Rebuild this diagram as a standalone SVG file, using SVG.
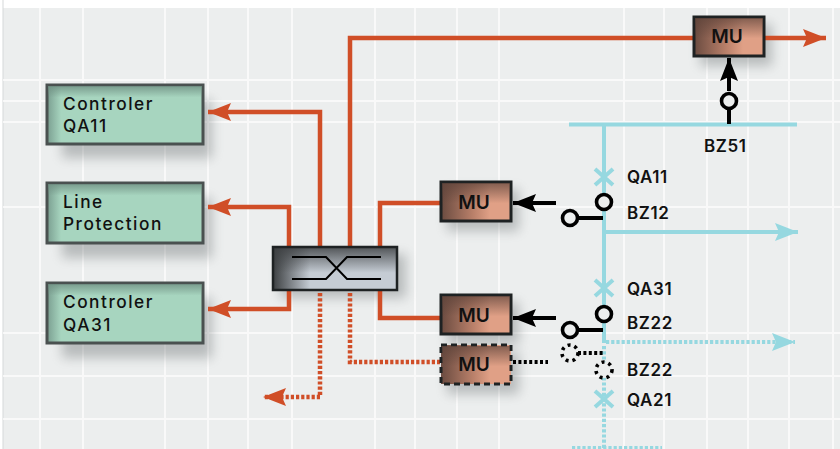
<svg xmlns="http://www.w3.org/2000/svg" width="840" height="449" viewBox="0 0 840 449">
<style>
.grid{stroke:#fff;stroke-width:2;fill:none;opacity:.7}
.red{stroke:#d04e27;stroke-width:4.500;fill:none}
.redd{stroke:#d04e27;stroke-width:4.500;fill:none;stroke-dasharray:3.200 2}
.cy{stroke:#96d8e0;stroke-width:4;fill:none}
.cyd{stroke:#96d8e0;stroke-width:4;fill:none;stroke-dasharray:3.200 2}
.bk{stroke:#000;stroke-width:4;fill:none}
.bkd{stroke:#000;stroke-width:4;fill:none;stroke-dasharray:3 2.400}
.ring{stroke:#000;stroke-width:3.600;fill:#eceeee}
.ringd{stroke:#000;stroke-width:3.600;fill:#eceeee;stroke-dasharray:3 4}
.t{font-family:Inter,"Noto Sans","Liberation Sans",sans-serif;fill:#111}
.g{font-size:17.300px;letter-spacing:1.500px;font-weight:500}
.m{font-size:19px;font-weight:600;text-anchor:middle}
.l{font-size:17px;font-weight:600;letter-spacing:.6px}
.green{fill:url(#gg);stroke:#4a5150;stroke-width:3}
.gov{fill:url(#gt);stroke:none}
.mu{fill:url(#mg);stroke:#1e2223;stroke-width:3}
.ov{fill:url(#mt);stroke:none}
</style>
<defs>
<linearGradient id="gg" x1="0" y1="0" x2="1" y2="0"><stop offset="0" stop-color="#7a9e90"/><stop offset=".09" stop-color="#a7d5bf"/><stop offset="1" stop-color="#a7d5bf"/></linearGradient>
<linearGradient id="gt" x1="0" y1="0" x2="0" y2="1"><stop offset="0" stop-color="#6f8f82" stop-opacity=".8"/><stop offset=".2" stop-color="#6f8f82" stop-opacity="0"/></linearGradient>
<linearGradient id="mg" x1="0" y1="0" x2="1" y2="0"><stop offset="0" stop-color="#6a4b40"/><stop offset=".45" stop-color="#b87f69"/><stop offset=".7" stop-color="#e0a086"/><stop offset="1" stop-color="#e0a086"/></linearGradient>
<linearGradient id="mt" x1="0" y1="0" x2="0" y2="1"><stop offset="0" stop-color="#5c4239" stop-opacity=".7"/><stop offset=".55" stop-color="#5c4239" stop-opacity="0"/></linearGradient>
<linearGradient id="sw" x1="0" y1="0" x2="1" y2="0"><stop offset="0" stop-color="#3c3f41"/><stop offset=".3" stop-color="#c5ccd4"/><stop offset="1" stop-color="#c5ccd4"/></linearGradient>
<linearGradient id="swt" x1="0" y1="0" x2="0" y2="1"><stop offset="0" stop-color="#3c3f41" stop-opacity=".85"/><stop offset=".6" stop-color="#3c3f41" stop-opacity="0"/></linearGradient>
<filter id="sh" x="-30%" y="-50%" width="160%" height="200%"><feGaussianBlur stdDeviation="6"/></filter>
<marker id="ar" markerWidth="24" markerHeight="18" refX="23" refY="9" orient="auto" markerUnits="userSpaceOnUse"><path d="M0 0L23 9L0 18L4 9Z" fill="#d04e27"/></marker>
<marker id="ac" markerWidth="24" markerHeight="18" refX="23" refY="9" orient="auto" markerUnits="userSpaceOnUse"><path d="M0 0L23 9L0 18L4 9Z" fill="#96d8e0"/></marker>
<marker id="ab" markerWidth="24" markerHeight="18" refX="23" refY="9" orient="auto" markerUnits="userSpaceOnUse"><path d="M0 0L23 9L0 18L4 9Z" fill="#000"/></marker>
</defs>
<rect width="840" height="449" fill="#fff"/>
<rect x="3" y="8" width="837" height="441" fill="#eceeee"/>
<line x1="3" y1="0" x2="3" y2="449" stroke="#d5d8d9" stroke-width="1"/>
<g id="grid" class="grid">
<path d="M40 8V449M83 8V449M165 8V449M208 8V449M248 8V449M292 8V449M375 8V449M415 8V449M457 8V449M499 8V449M624 8V449M664 8V449M707 8V449M748 8V449M789 8V449M833 8V449"/>
<path d="M3 80H840M3 101H840M3 122H840M3 207H840M3 333H840M3 376H840M3 419H840"/>
</g>
<g id="shadows" fill="#4c5254" opacity=".32" filter="url(#sh)">
<rect x="62" y="100" width="150" height="58"/>
<rect x="62" y="198" width="150" height="60"/>
<rect x="62" y="298" width="150" height="60"/>
<rect x="280" y="254" width="126" height="44"/>
<rect x="700" y="24" width="72" height="42"/>
<rect x="447" y="189" width="72" height="42"/>
<rect x="447" y="302" width="72" height="42"/>
<rect x="447" y="352" width="72" height="42"/>
</g>
<g id="connectors">
<path class="red" d="M350 247V38H694"/>
<path class="red" d="M764 38H826" marker-end="url(#ar)"/>
<path class="red" d="M320 247V112H208" marker-end="url(#ar)"/>
<path class="red" d="M289 247V207H208" marker-end="url(#ar)"/>
<path class="red" d="M289 290V309H208" marker-end="url(#ar)"/>
<path class="red" d="M380 247V203H440"/>
<path class="red" d="M380 290V318H440"/>
<path class="redd" d="M320 293V397H263" marker-end="url(#ar)"/>
<path class="redd" d="M350 293V362H440"/>
<path class="cy" d="M569 124.500H797"/>
<path class="cy" d="M604 124V343"/>
<path class="cy" d="M604 232H798" marker-end="url(#ac)"/>
<path class="cyd" d="M606 342H795" marker-end="url(#ac)"/>
<path class="cyd" d="M604 346V449"/>
<path class="cyd" d="M572 448H662"/>
<path class="cy" d="M595 169L613 185M613 169L595 185M595 280L613 296M613 280L595 296M595 391L613 407M613 391L595 407"/>
<path class="bk" d="M729 124V108"/>
<path class="bk" d="M729 91V58" marker-end="url(#ab)"/>
<path class="bk" d="M556 203H513" marker-end="url(#ab)"/>
<path class="bk" d="M556 318H513" marker-end="url(#ab)"/>
<path class="bk" d="M577 218H603"/>
<path class="bk" d="M577 330H603"/>
<path class="bkd" d="M578 353H603"/>
<path class="bkd" d="M513 362H548"/>
</g>
<g id="ring-bz51"><circle class="ring" cx="729" cy="101" r="7.500"/></g>
<g id="ring-bz12a"><circle class="ring" cx="604" cy="202" r="7.500"/></g>
<g id="ring-bz12b"><circle class="ring" cx="570" cy="218" r="7.500"/></g>
<g id="ring-bz22a"><circle class="ring" cx="604" cy="314" r="7.500"/></g>
<g id="ring-bz22b"><circle class="ring" cx="570" cy="330" r="7.500"/></g>
<g id="ring-bz22c"><circle class="ringd" cx="570" cy="353" r="8"/></g>
<g id="ring-bz22d"><circle class="ringd" cx="604" cy="370" r="8"/></g>
<g id="node-controler-qa11"><rect class="green" x="47" y="85" width="156" height="59"/><rect class="gov" x="48" y="86" width="154" height="57"/><text class="t g"><tspan x="63" y="110">Controler</tspan><tspan x="63" y="132">QA11</tspan></text></g>
<g id="node-line-protection"><rect class="green" x="47" y="183" width="156" height="60"/><rect class="gov" x="48" y="184" width="154" height="58"/><text class="t g"><tspan x="63" y="208">Line</tspan><tspan x="63" y="230">Protection</tspan></text></g>
<g id="node-controler-qa31"><rect class="green" x="47" y="283" width="156" height="60"/><rect class="gov" x="48" y="284" width="154" height="58"/><text class="t g"><tspan x="63" y="308">Controler</tspan><tspan x="63" y="331">QA31</tspan></text></g>
<g id="node-switch"><rect x="273" y="247" width="124" height="43" fill="url(#sw)"/><rect x="273" y="247" width="124" height="43" fill="url(#swt)"/><rect x="273" y="247" width="124" height="43" fill="none" stroke="#1e2223" stroke-width="2.500"/><path d="M292 257H326L347 279H381M292 279H326L347 257H381" fill="none" stroke="#000" stroke-width="2"/></g>
<g id="node-mu-top"><rect class="mu" x="694" y="17" width="70" height="39"/><rect class="ov" x="695" y="18" width="68" height="37"/><text class="t m" x="727" y="43">MU</text></g>
<g id="node-mu-1"><rect class="mu" x="441" y="182" width="70" height="39"/><rect class="ov" x="442" y="183" width="68" height="37"/><text class="t m" x="474" y="209">MU</text></g>
<g id="node-mu-2"><rect class="mu" x="441" y="295" width="70" height="39"/><rect class="ov" x="442" y="296" width="68" height="37"/><text class="t m" x="474" y="322">MU</text></g>
<g id="node-mu-3"><rect x="441" y="345" width="70" height="39" fill="url(#mg)" stroke="#1e2223" stroke-width="3" stroke-dasharray="6 4"/><rect class="ov" x="442" y="346" width="68" height="37"/><text class="t m" x="474" y="371">MU</text></g>
<g id="labels">
<text class="t l" x="704" y="152">BZ51</text>
<text class="t l" x="627" y="183">QA11</text>
<text class="t l" x="627" y="219">BZ12</text>
<text class="t l" x="627" y="295">QA31</text>
<text class="t l" x="627" y="329">BZ22</text>
<text class="t l" x="627" y="376">BZ22</text>
<text class="t l" x="627" y="406">QA21</text>
</g>
</svg>
